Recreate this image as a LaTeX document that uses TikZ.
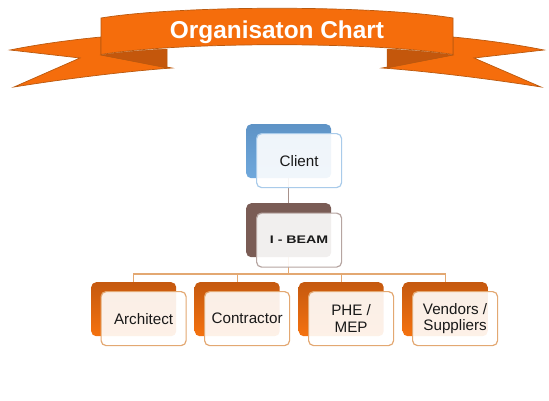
\documentclass[tikz,border=0pt]{standalone}
\usepackage{fontspec}
\setmainfont{Liberation Sans}
\usetikzlibrary{backgrounds}
\definecolor{bannerfill}{HTML}{F56D0C}
\definecolor{banneredge}{HTML}{B9590F}
\definecolor{bannerfold}{HTML}{C4570C}
\definecolor{linkcol}{HTML}{E3A872}
\definecolor{orangetop}{HTML}{C5590F}
\definecolor{orangebot}{HTML}{F5720F}
\definecolor{bluetop}{HTML}{5E93C6}
\definecolor{bluebot}{HTML}{6FA8DC}
\definecolor{brownback}{HTML}{7A5C55}
\definecolor{stemcol}{HTML}{A8928C}
\tikzset{
  x=1pt,y=-1pt,
  backbox/.style={rectangle,rounded corners=5pt,minimum width=85pt,minimum height=54pt,inner sep=0pt,anchor=north west},
  frontbox/.style={rectangle,rounded corners=5pt,minimum width=85pt,minimum height=54pt,inner sep=0pt,anchor=north west,
    line width=1.2pt,fill=white,fill opacity=0.9,text opacity=1,draw opacity=1,align=center,text=black!90,font=\fontsize{15.2}{16.5}\selectfont},
  orangeback/.style={backbox,top color=orangetop,bottom color=orangebot},
  bluegrad/.style={backbox,top color=bluetop,bottom color=bluebot},
  browngrad/.style={backbox,fill=brownback},
  bannershape/.style={fill=bannerfill,draw=banneredge,line width=0.7pt,line join=miter},
  link/.style={draw=linkcol,line width=1.2pt},
  clink/.style={draw=stemcol,line width=1.2pt}
}
\begin{document}
\begin{tikzpicture}
\useasboundingbox (0,0) rectangle (549,400);
% banner
\path[bannershape] (101,37) .. controls (70,40) and (40,44) .. (10,50) -- (80,58) -- (14,87)
  .. controls (70,78) and (130,71) .. (172,68) -- (101,55) -- cycle;
\path[bannershape] (453,37) .. controls (484,40) and (514,44) .. (544,50) -- (474,58) -- (541,87)
  .. controls (484,78) and (424,71) .. (382,68) -- (453,55) -- cycle;
\path[fill=bannerfold,draw=banneredge,line width=0.5pt] (101,55) .. controls (120,52) and (145,50) .. (167,49) -- (167,68) -- cycle;
\path[fill=bannerfold,draw=banneredge,line width=0.5pt] (453,55) .. controls (434,52) and (409,50) .. (387,49) -- (387,68) -- cycle;
\path[bannershape] (101,18) .. controls (180,5) and (374,5) .. (453,18) -- (453,54.5)
  .. controls (374,41.5) and (180,41.5) .. (101,54.5) -- cycle;
\node[text=white,font=\fontsize{24.4}{26}\selectfont\bfseries] (title) at (277,32) {Organisaton Chart};
% back boxes
\node[bluegrad] (cback) at (246,124) {};
\node[browngrad] (iback) at (246,203) {};
\node[orangeback] (aback) at (91,282) {};
\node[orangeback] (cnback) at (194.5,282) {};
\node[orangeback] (pback) at (298.5,282) {};
\node[orangeback] (vback) at (402.5,282) {};
% front boxes
\node[frontbox,draw=bluebot!60!white] (client) at (256,133) {Client};
\node[frontbox,draw=brownback!55!white] (ibeam) at (256,212.5) {\fontsize{11}{12}\selectfont\bfseries\scalebox{1.29}[1]{I - BEAM}};
\node[frontbox,draw=linkcol] (arch) at (100.5,291) {Architect};
\node[frontbox,draw=linkcol] (contr) at (204,291) {Contractor};
\node[frontbox,draw=linkcol] (phe) at (308,291) {PHE /\\MEP};
\node[frontbox,draw=linkcol] (vend) at (412,291) {Vendors /\\Suppliers};
% connectors
\begin{scope}[on background layer]
\coordinate (bus) at (iback.south |- 0,274);
\draw[clink] (cback.south) -- (iback.north);
\draw[link] (iback.south) -- (bus);
\draw[link] (bus) -| (aback.north);
\draw[link] (bus) -| (cnback.north);
\draw[link] (bus) -| (pback.north);
\draw[link] (bus) -| (vback.north);
\end{scope}
\end{tikzpicture}
\end{document}
